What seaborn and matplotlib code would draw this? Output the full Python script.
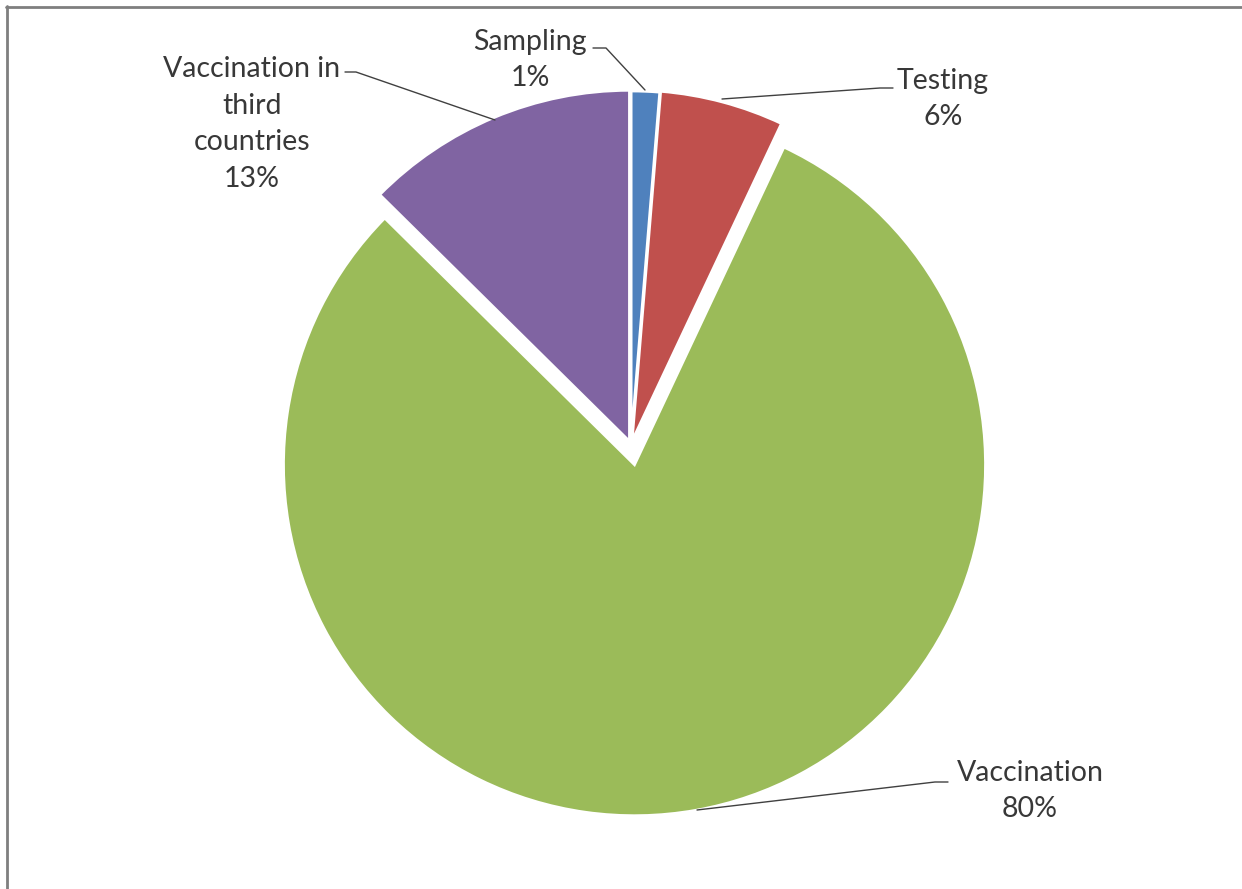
import matplotlib
matplotlib.use("Agg")
import matplotlib.pyplot as plt
import seaborn as sns
from matplotlib.lines import Line2D

sns.set_theme(style="white")
plt.rcParams['font.family'] = ['Lato', 'DejaVu Sans']

categories = ["Sampling", "Testing", "Vaccination", "Vaccination in\nthird\ncountries"]
shares = [1.3, 5.7, 80.4, 12.6]
colors = ["#4F81BD", "#C0504D", "#9BBB59", "#8064A2"]
explode_px = [3, 4, 20, 4]

W, H = 1242, 889
fig = plt.figure(figsize=(W / 100, H / 100), dpi=100)
ax = fig.add_axes([0, 0, 1, 1])

cx, cy, r = 631, H - 445, 351
wedges, _ = ax.pie(shares, colors=colors, startangle=90, counterclock=False,
                   radius=r, center=(cx, cy), explode=explode_px, frame=True,
                   wedgeprops=dict(edgecolor='white', linewidth=2))
ax.set_xlim(0, W)
ax.set_ylim(0, H)
ax.set_aspect('equal')
ax.axis('off')

def lbl(i):
    return f"{categories[i]}\n{round(shares[i]):.0f}%"

fs = 20.5
tc = '#383838'
ls = 1.5
# label positions (pixel coordinates, y from top)
ax.text(530, H - 60, lbl(0), ha='center', va='center', fontsize=fs, color=tc, linespacing=ls)
ax.text(943, H - 99, lbl(1), ha='center', va='center', fontsize=fs, color=tc, linespacing=ls)
ax.text(1030, H - 791, lbl(2), ha='center', va='center', fontsize=fs, color=tc, linespacing=ls)
ax.text(252, H - 124, lbl(3), ha='center', va='center', fontsize=fs, color=tc, linespacing=ls)

def leader(pts):
    xs = [p[0] for p in pts]
    ys = [H - p[1] for p in pts]
    ax.add_line(Line2D(xs, ys, color='#404040', linewidth=1.0))

leader([(593, 48), (606, 48), (645, 90)])
leader([(893, 88), (880, 88), (722, 99)])
leader([(345, 72), (356, 72), (495, 120)])
leader([(948, 782), (935, 782), (697, 810)])

# image frame (top and left edges)
fig.add_artist(Line2D([6 / W, 1], [1 - 7 / H, 1 - 7 / H], transform=fig.transFigure, color='#7f7f7f', linewidth=2))
fig.add_artist(Line2D([7 / W, 7 / W], [0, 1 - 6 / H], transform=fig.transFigure, color='#7f7f7f', linewidth=2))

fig.savefig("out.png", dpi=100, facecolor='white')
